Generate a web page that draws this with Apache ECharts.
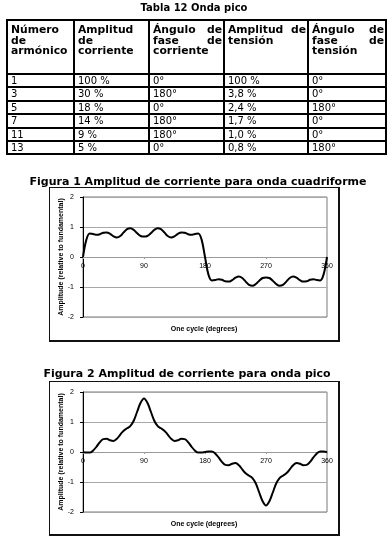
<!DOCTYPE html>
<html><head><meta charset="utf-8">
<script src="https://cdn.jsdelivr.net/npm/echarts@6/dist/echarts.min.js"></script>
<style>
html,body{margin:0;padding:0;background:#fff;}
#page{position:relative;width:388px;height:541px;overflow:hidden;}
#chart{position:absolute;left:0;top:0;width:388px;height:541px;}
#tbl{position:absolute;left:6px;top:19px;border-collapse:collapse;table-layout:fixed;width:379px;font-family:"DejaVu Sans",Verdana,sans-serif;color:#000;z-index:2;}
#tbl td{border:2px solid #000;padding:0 1px 0 3px;font-size:10px;height:11.4px;line-height:11.4px;white-space:nowrap;overflow:hidden;}
#tbl th{border:2px solid #000;padding:4px 1px 0 3px;font-size:10.8px;font-weight:bold;line-height:10.5px;text-align:justify;vertical-align:top;height:48px;}
</style></head>
<body><div id="page"><table id="tbl"></table><div id="chart"></div></div>
<script>
// ---- table data ----
const tableTitle = 'Tabla 12 Onda pico';
const headers = ['Número de armónico','Amplitud de corriente','Ángulo de fase de corriente','Amplitud de tensión','Ángulo de fase de tensión'];
const harmonics = ['1','3','5','7','11','13'];
const currentAmp = ['100 %','30 %','18 %','14 %','9 %','5 %'];
const currentPhase = ['0°','180°','0°','180°','180°','0°'];
const voltageAmp = ['100 %','3,8 %','2,4 %','1,7 %','1,0 %','0,8 %'];
const voltagePhase = ['0°','0°','180°','0°','0°','180°'];

// ---- chart data ----
const fig1Title = 'Figura 1 Amplitud de corriente para onda cuadriforme';
const fig2Title = 'Figura 2 Amplitud de corriente para onda pico';
const xName = 'One cycle (degrees)';
const yName = 'Amplitude (relative to fundamental)';
const xTicks = [0, 90, 180, 270, 360];
const yTicks = [-2, -1, 0, 1, 2];
const angles = [0,5,10,15,20,25,30,35,40,45,50,55,60,65,70,75,80,85,90,95,100,105,110,115,120,125,130,135,140,145,150,155,160,165,170,175,180,
  185,190,195,200,205,210,215,220,225,230,235,240,245,250,255,260,265,270,275,280,285,290,295,300,305,310,315,320,325,330,335,340,345,350,355,360];
const squareWave = [0,0.58,0.78,0.77,0.74,0.76,0.81,0.82,0.77,0.69,0.65,0.70,0.82,0.93,0.96,0.90,0.79,0.70,0.68,0.70,0.79,0.90,0.96,0.93,0.82,0.70,0.65,0.69,0.77,0.82,0.81,0.76,0.74,0.77,0.78,0.58,0,
  -0.58,-0.78,-0.77,-0.74,-0.76,-0.81,-0.82,-0.77,-0.69,-0.65,-0.70,-0.82,-0.93,-0.96,-0.90,-0.79,-0.70,-0.68,-0.70,-0.79,-0.90,-0.96,-0.93,-0.82,-0.70,-0.65,-0.69,-0.77,-0.82,-0.81,-0.76,-0.74,-0.77,-0.78,-0.58,0];
const peakWave = [0,-0.02,-0.02,0.05,0.18,0.33,0.43,0.44,0.39,0.37,0.44,0.58,0.71,0.79,0.87,1.05,1.35,1.64,1.78,1.64,1.35,1.05,0.87,0.79,0.71,0.58,0.44,0.37,0.39,0.44,0.43,0.33,0.18,0.05,-0.02,-0.02,0,
  0.02,0.02,-0.05,-0.18,-0.33,-0.43,-0.44,-0.39,-0.37,-0.44,-0.58,-0.71,-0.79,-0.87,-1.05,-1.35,-1.64,-1.78,-1.64,-1.35,-1.05,-0.87,-0.79,-0.71,-0.58,-0.44,-0.37,-0.39,-0.44,-0.43,-0.33,-0.18,-0.05,0.02,0.02,0];

// ---- build table ----
(function(){
  const colW = [67,75,75,84,78];
  let h = '<colgroup>' + colW.map(w=>'<col style="width:'+w+'px">').join('') + '</colgroup>';
  h += '<tr>' + headers.map(t=>'<th>'+t+'</th>').join('') + '</tr>';
  for (let i=0;i<harmonics.length;i++){
    h += '<tr><td>'+harmonics[i]+'</td><td>'+currentAmp[i]+'</td><td>'+currentPhase[i]+'</td><td>'+voltageAmp[i]+'</td><td>'+voltagePhase[i]+'</td></tr>';
  }
  document.getElementById('tbl').innerHTML = h;
})();

const chart = echarts.init(document.getElementById('chart'), null, {renderer:'canvas'});
const labelFont = '"Liberation Sans", Arial, sans-serif';
const titleFont = '"DejaVu Sans", Verdana, sans-serif';
const gridH = 120;
const grids = [{left:83, top:197, width:244, height:gridH}, {left:83, top:392, width:244, height:gridH}];

function xAx(i){
  return {type:'value', gridIndex:i, position:'bottom', offset:-gridH/2,
    min:xTicks[0], max:xTicks[xTicks.length-1], interval:xTicks[1]-xTicks[0],
    axisLine:{show:true, onZero:false, lineStyle:{color:'#9a9a9a', width:1}},
    axisTick:{show:true, length:2, lineStyle:{color:'#9a9a9a'}},
    axisLabel:{fontSize:7, fontFamily:labelFont, color:'#000', margin:6, showMinLabel:true, showMaxLabel:true},
    splitLine:{show:false}};
}
function yAx(i){
  return {type:'value', gridIndex:i, min:yTicks[0], max:yTicks[yTicks.length-1], interval:yTicks[1]-yTicks[0],
    axisLine:{show:true, onZero:false, lineStyle:{color:'#000', width:1}},
    axisTick:{show:true, length:3, lineStyle:{color:'#000'}},
    axisLabel:{fontSize:7, fontFamily:labelFont, color:'#000', margin:9},
    splitLine:{show:true, lineStyle:{color:'#a8a8a8', width:1}},
    name:yName, nameLocation:'middle', nameGap:18, nameRotate:90, nameMoveOverlap:false,
    nameTextStyle:{fontSize:7, fontWeight:'bold', fontFamily:labelFont, color:'#000'}};
}
function frame(x,y,w,h){
  return [
    {type:'rect', z:-10, shape:{x:x, y:y, width:w, height:h}, style:{fill:'#111'}},
    {type:'rect', z:-9, shape:{x:x+1, y:y+1, width:w-3, height:h-3}, style:{fill:'#fff'}}
  ];
}
function txt(s,x,y,size,weight,font){
  return {type:'text', z:10, style:{text:s, x:x, y:y, fill:'#000', font:weight+' '+size+'px '+font, align:'center', verticalAlign:'middle'}};
}

const option = {
  animation:false,
  backgroundColor:'transparent',
  grid: grids.map(g=>Object.assign({show:true, borderColor:'#7a7a7a', borderWidth:1, backgroundColor:'#fff', containLabel:false}, g)),
  xAxis:[xAx(0), xAx(1)],
  yAxis:[yAx(0), yAx(1)],
  series:[
    {type:'line', xAxisIndex:0, yAxisIndex:0, data:angles.map((a,k)=>[a, squareWave[k]]), showSymbol:false, smooth:0.35, lineStyle:{color:'#000', width:2}},
    {type:'line', xAxisIndex:1, yAxisIndex:1, data:angles.map((a,k)=>[a, peakWave[k]]), showSymbol:false, smooth:0.35, lineStyle:{color:'#000', width:2}}
  ],
  graphic:[].concat(
    frame(49,187,291,155),
    frame(49,381,291,155),
    [
      txt(tableTitle,194,8.5,10,'bold',titleFont),
      txt(fig1Title,198,182,11,'bold',titleFont),
      txt(fig2Title,187,374,11,'bold',titleFont),
      txt(xName,204,329,7,'bold',labelFont),
      txt(xName,204,524,7,'bold',labelFont)
    ])
};
chart.setOption(option);
</script>
</body></html>
